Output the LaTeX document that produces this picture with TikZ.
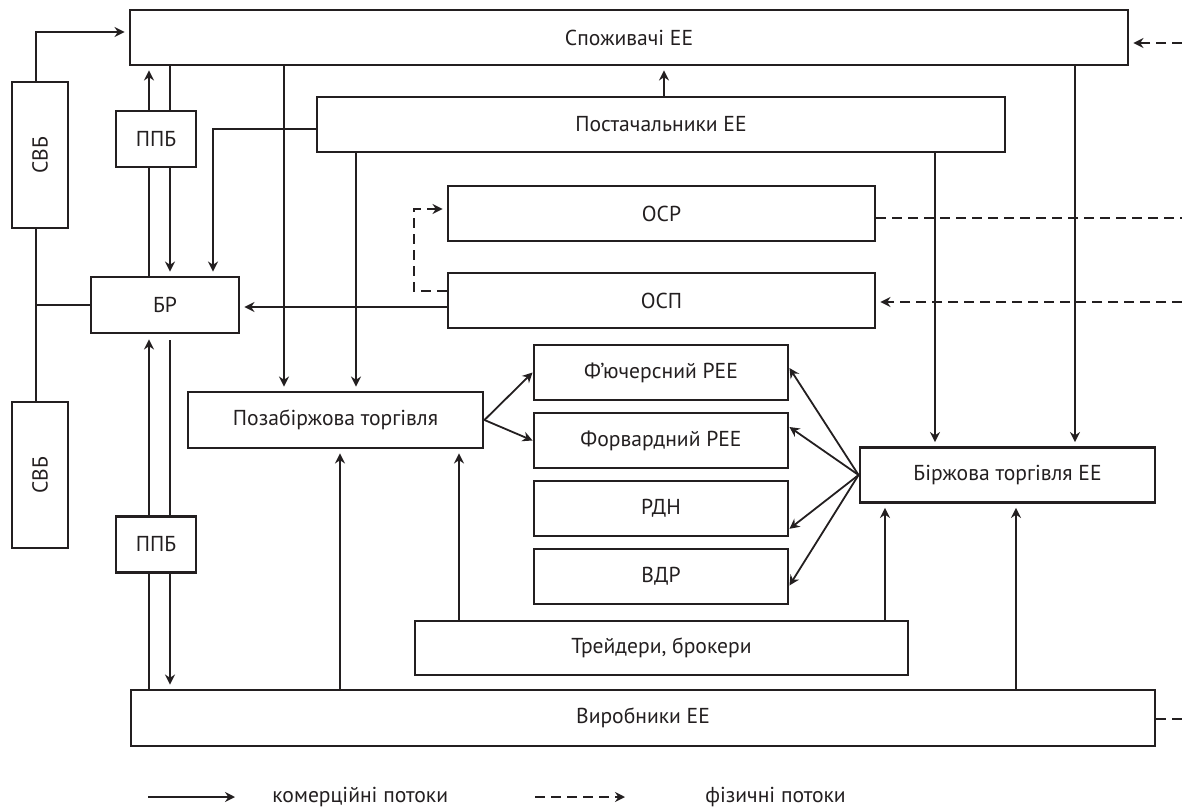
\documentclass[tikz,border=0pt]{standalone}
\usepackage{fontspec}
\setmainfont{PT Sans}
\usepackage{tikz}
\usetikzlibrary{arrows.meta}

\definecolor{ink}{RGB}{35,31,32}

\begin{document}
\begin{tikzpicture}[x=0.5pt,y=-0.5pt,
    every node/.style={font=\fontsize{10.8}{12}\selectfont,text=ink},
    box/.style={draw=ink,line width=1.45pt,rectangle,inner sep=0pt,minimum height=27.5pt},
    flow/.style={draw=ink,line width=0.9pt},
    arr/.style={flow,-{Stealth[length=5pt,width=5pt]},shorten >=2pt},
    phys/.style={flow,dash pattern=on 5pt off 3pt},
    physarr/.style={phys,-{Stealth[length=5pt,width=5pt]},shorten >=2pt}]
    \useasboundingbox (0,0) rectangle (1182,807);
    %%%%% THE BOXES
    \node[box,minimum width=499pt] (spoz) at (629,37.5) {Споживачі ЕЕ};
    \node[box,minimum width=344pt] (post) at (661,124.5) {Постачальники ЕЕ};
    \node[box,minimum width=213.5pt] (osr) at (661.5,213.5) {ОСР};
    \node[box,minimum width=213.5pt] (osp) at (661.5,300.5) {ОСП};
    \node[box,minimum width=28pt,minimum height=73pt] (svb1) at (40,155) {\rotatebox{90}{СВБ}};
    \node[box,minimum width=28pt,minimum height=73pt] (svb2) at (40,475) {\rotatebox{90}{СВБ}};
    \node[box,minimum width=40pt,minimum height=28pt] (ppb1) at (156,139) {ППБ};
    \node[box,minimum width=40pt,minimum height=28pt] (ppb2) at (156,544.5) {ППБ};
    \node[box,minimum width=74pt,minimum height=28pt] (br) at (165,305) {БР};
    \node[box,minimum width=147.5pt,minimum height=28pt] (otc) at (335.5,420) {Позабіржова торгівля};
    \foreach \nm/\yy/\txt in {fut/372.5/Ф’ючерсний РЕЕ,fwd/440.5/Форвардний РЕЕ,rdn/508.5/РДН,vdr/576.5/ВДР}
      \node[box,minimum width=127pt] (\nm) at (661,\yy) {\txt};
    \node[box,minimum width=246.5pt,minimum height=27pt] (trd) at (661.5,648) {Трейдери, брокери};
    \node[box,minimum width=147.5pt] (exch) at (1007.5,475) {Біржова торгівля ЕЕ};
    \node[box,minimum width=512pt,minimum height=28pt] (prod) at (643,718) {Виробники ЕЕ};
    % lanes of the vertical links
    \coordinate (xs) at (36,0);
    \coordinate (xa) at (149,0);
    \coordinate (xb) at (170,0);
    \coordinate (xc) at (213,0);
    \coordinate (xd) at (284,0);
    \coordinate (xf) at (340,0);
    \coordinate (xe) at (356,0);
    \coordinate (xm) at (414,0);
    \coordinate (xg) at (459,0);
    \coordinate (xh) at (664,0);
    \coordinate (xi) at (885,0);
    \coordinate (xj) at (935,0);
    \coordinate (xk) at (1016,0);
    \coordinate (xl) at (1075,0);
    %%%%% COMMERCIAL FLOWS
    \draw[arr] (svb1.north -| xs) |- (spoz.west |- 0,32);
    \draw[flow] (svb1.south -| xs) -- (svb2.north -| xs);
    \draw[flow] (xs |- br.west) -- (br.west);
    \draw[arr] (ppb1.north -| xa) -- (spoz.south -| xa);
    \draw[flow] (spoz.south -| xb) -- (ppb1.north -| xb);
    \draw[flow] (ppb1.south -| xa) -- (br.north -| xa);
    \draw[arr] (ppb1.south -| xb) -- (br.north -| xb);
    \draw[arr,shorten >=2.5pt] (ppb2.north -| xa) -- (br.south -| xa);
    \draw[flow,shorten <=3pt] (br.south -| xb) -- (ppb2.north -| xb);
    \draw[flow] (prod.north -| xa) -- (ppb2.south -| xa);
    \draw[arr] (ppb2.south -| xb) -- (prod.north -| xb);
    \draw[arr] (post.west |- 0,129) -| (br.north -| xc);
    \draw[arr] (spoz.south -| xd) -- (otc.north -| xd);
    \draw[arr] (post.south -| xe) -- (otc.north -| xe);
    \draw[arr] (osp.west |- 0,307) -- (br.east |- 0,307);
    \draw[arr] (post.north -| xh) -- (spoz.south -| xh);
    \draw[arr] (post.south -| xj) -- (exch.north -| xj);
    \draw[arr] (spoz.south -| xl) -- (exch.north -| xl);
    \draw[arr] (prod.north -| xf) -- (otc.south -| xf);
    \draw[arr] (trd.north -| xg) -- (otc.south -| xg);
    \draw[arr] (trd.north -| xi) -- (exch.south -| xi);
    \draw[arr] (prod.north -| xk) -- (exch.south -| xk);
    \draw[arr,shorten >=0pt] (otc.east) -- (fut.west);
    \draw[arr,shorten >=0pt] (otc.east) -- (fwd.west);
    \draw[arr,shorten >=0pt] (exch.west) -- (fut.2);
    \draw[arr,shorten >=0pt] (exch.west) -- (fwd.6);
    \draw[arr,shorten >=0pt] (exch.west) -- (rdn.-9);
    \draw[arr,shorten >=0pt] (exch.west) -- (vdr.-4);
    %%%%% PHYSICAL FLOWS
    \coordinate (espoz) at (1182,43);
    \coordinate (eosr) at (1182,218);
    \coordinate (eosp) at (1182,302);
    \coordinate (eprod) at (1182,719);
    \draw[physarr] (osp.west |- 0,291) -| (xm |- 0,209) -- (osr.west |- 0,209);
    \draw[physarr] (espoz) -- (spoz.east |- espoz);
    \draw[phys] (osr.east |- eosr) -- (eosr);
    \draw[physarr] (eosp) -- (osp.east |- eosp);
    \draw[phys] (prod.east |- eprod) -- (eprod);
    %%%%% LEGEND
    \coordinate (lgA) at (148,797);
    \coordinate (lgB) at (235,797);
    \coordinate (lgC) at (535,797);
    \coordinate (lgD) at (625,797);
    \draw[arr,shorten >=0pt] (lgA) -- (lgB);
    \node[anchor=west,inner sep=0pt] (lgcom) at (272,797) {комерційні потоки};
    \draw[physarr,shorten >=0pt] (lgC) -- (lgD);
    \node[anchor=west,inner sep=0pt] (lgphys) at (705,797) {фізичні потоки};
\end{tikzpicture}
\end{document}
